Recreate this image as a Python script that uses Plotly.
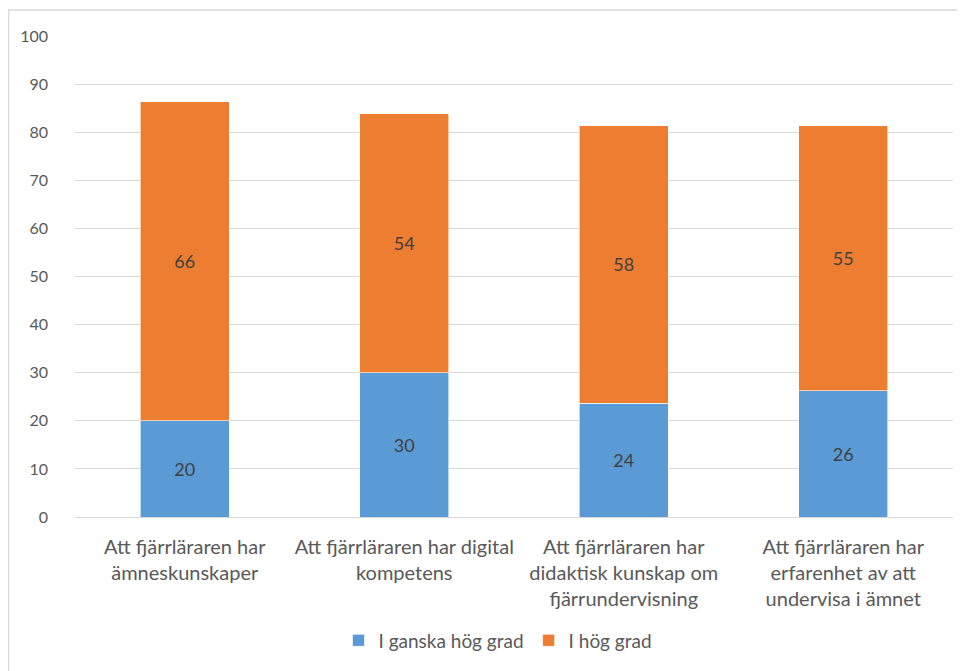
import plotly.graph_objects as go

categories = [
    "Att fjärrläraren har<br>ämneskunskaper",
    "Att fjärrläraren har digital<br>kompetens",
    "Att fjärrläraren har<br>didaktisk kunskap om<br>fjärrundervisning",
    "Att fjärrläraren har<br>erfarenhet av att<br>undervisa i ämnet",
]
ganska_hog = [20.0, 30.0, 23.7, 26.2]
hog = [66.3, 53.8, 57.6, 55.1]
y_ticks = [0, 10, 20, 30, 40, 50, 60, 70, 80, 90, 100]

FONT = "Lato, Open Sans, sans-serif"

# the page body has an 8px margin, so the figure sits at (8, 8)
OFF = 8
W, H = 965 - OFF, 671 - OFF
L, R, T, B = 75 - OFF, 12, 36 - OFF, 152
pw, ph = W - L - R, H - T - B

def px(x):
    return (x - OFF - L) / pw

def py(y):
    return (H - B - (y - OFF)) / ph

fig = go.Figure()
fig.add_trace(go.Bar(
    x=categories, y=ganska_hog, name="I ganska hög grad",
    marker=dict(color="#5B9BD5", line=dict(color="#ffffff", width=0.6)),
    texttemplate="%{y:.0f}", textposition="inside", insidetextanchor="middle",
    textfont=dict(color="#404040", size=18, family=FONT),
))
fig.add_trace(go.Bar(
    x=categories, y=hog, name="I hög grad",
    marker=dict(color="#ED7D31", line=dict(color="#ffffff", width=0.6)),
    texttemplate="%{y:.0f}", textposition="inside", insidetextanchor="middle",
    textfont=dict(color="#404040", size=18, family=FONT),
))

fig.update_layout(
    width=W, height=H,
    margin=dict(l=L, r=R, t=T, b=B),
    barmode="stack", bargap=0.595,
    plot_bgcolor="white", paper_bgcolor="white",
    font=dict(family=FONT, size=15, color="#595959"),
    showlegend=True,
    legend=dict(orientation="h", x=px(498), xanchor="center", y=py(643), yanchor="middle",
                font=dict(size=19, color="#595959"), traceorder="normal"),
    xaxis=dict(showgrid=False, ticks="", showline=False,
               tickfont=dict(size=20, color="#595959"), ticklabelstandoff=16),
    yaxis=dict(range=[0, 100], tickvals=y_ticks, showgrid=True, gridcolor="#d9d9d9", gridwidth=1,
               zeroline=True, zerolinecolor="#d9d9d9", zerolinewidth=1, showline=False, ticks="",
               tickfont=dict(size=16, color="#595959"), ticklabelstandoff=26),
    shapes=[dict(type="rect", xref="paper", yref="paper",
                 x0=px(8.5), x1=px(990), y0=py(700), y1=py(10),
                 line=dict(color="#d9d9d9", width=1.5), fillcolor="rgba(0,0,0,0)", layer="below")],
)

fig.write_html("out.html")
